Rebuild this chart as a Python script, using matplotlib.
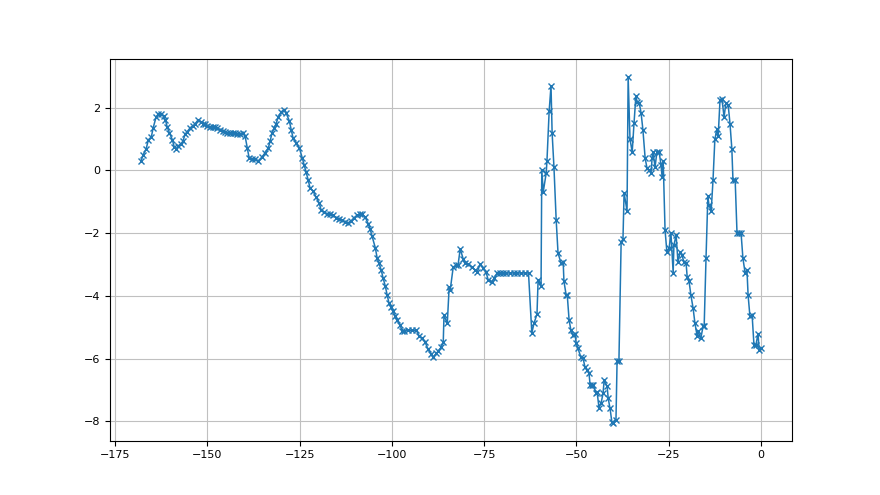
import matplotlib
matplotlib.use("Agg")
import matplotlib.pyplot as plt

# valores
x = [-168, -167.4, -166.6, -166.0, -165.2, -164.7, -163.9, -163.3, -162.5, -161.9,
     -161.4, -160.9, -160.3, -159.5, -159.0, -158.4, -157.9, -157.1, -156.6, -156.0,
     -155.5, -154.7, -153.9, -153.3, -152.5, -151.7, -151.2, -150.6, -150.1, -149.3,
     -148.5, -147.9, -147.4, -146.5, -145.7, -145.2, -144.6, -143.8, -143.0, -142.5,
     -141.9, -141.1, -140.3, -139.8, -139.2, -138.7, -137.9, -137.1, -136.3, -135.2,
     -134.4, -133.5, -133.0, -132.5, -131.9, -131.4, -130.8, -130.0, -129.2, -128.7,
     -127.8, -127.3, -126.8, -126.0, -125.1, -124.3, -123.8, -123.3, -122.7, -122.2,
     -121.4, -120.6, -119.7, -119.2, -118.4, -117.6, -116.7, -115.9, -115.1, -114.3,
     -113.5, -112.7, -111.9, -111.1, -110.3, -109.4, -108.6, -108.1, -107.3, -106.4,
     -105.9, -105.4, -104.5, -104.0, -103.5, -102.9, -102.4, -101.8, -101.3, -100.8,
     -100.2, -99.7, -99.1, -98.6, -97.8, -97.2, -96.7, -95.6, -94.5, -93.4,
     -92.6, -91.8, -91.0, -90.2, -89.4, -88.8, -88.0, -87.5, -86.7, -86.1,
     -85.9, -85.0, -84.5, -84.2, -83.4, -82.6, -82.1, -81.5, -80.7, -80.2,
     -79.4, -78.3, -77.5, -76.9, -76.1, -75.3, -74.5, -73.9, -72.9, -72.3,
     -71.5, -70.7, -70, -69, -68, -67, -66, -65, -64, -63,
     -62.1, -61.5, -60.7, -60.4, -59.6, -59.4, -59.0, -58.2, -58.0, -57.4,
     -56.9, -56.6, -56.1, -55.5, -55.0, -54.2, -53.6, -53.4, -52.8, -52.5,
     -52.0, -51.5, -50.9, -50.4, -50.1, -49.6, -48.8, -48.2, -47.7, -47.1,
     -46.6, -46.3, -45.8, -45.5, -44.7, -44.4, -43.9, -43.3, -42.8, -42.5,
     -41.7, -41.4, -40.9, -40.4, -40.1, -39.3, -39.0, -38.5, -37.9, -37.4,
     -37.1, -36.3, -36.0, -35.5, -34.9, -34.4, -33.9, -33.6, -33.0, -32.5,
     -32.0, -31.4, -30.9, -30.3, -29.8, -29.5, -29.3, -28.7, -28.2, -27.6,
     -27.1, -26.8, -26.5, -26.0, -25.5, -24.9, -24.4, -23.8, -23.6, -23.0,
     -22.5, -21.9, -21.4, -20.9, -20.3, -20.0, -19.5, -19.0, -18.4, -17.9,
     -17.3, -17.1, -16.3, -15.7, -15.4, -14.9, -14.4, -14.1, -13.5, -13.0,
     -12.5, -11.9, -11.6, -11.1, -10.6, -10.0, -9.5, -8.9, -8.4, -7.9,
     -7.6, -7.0, -6.5, -6.0, -5.4, -4.9, -4.3, -3.8, -3.5, -3.0,
     -2.4, -1.9, -1.4, -0.8, -0.5, 0]

y = [0.3, 0.5, 0.69, 0.98, 1.07, 1.36, 1.71, 1.8, 1.8, 1.74,
     1.62, 1.39, 1.2, 0.98, 0.75, 0.69, 0.79, 0.85, 0.95, 1.17,
     1.23, 1.36, 1.43, 1.49, 1.62, 1.55, 1.49, 1.49, 1.43, 1.39,
     1.39, 1.39, 1.36, 1.3, 1.26, 1.23, 1.2, 1.2, 1.2, 1.2,
     1.17, 1.17, 1.2, 1.1, 0.72, 0.4, 0.37, 0.37, 0.3, 0.43,
     0.56, 0.72, 0.94, 1.2, 1.36, 1.49, 1.71, 1.87, 1.94, 1.84,
     1.58, 1.3, 1.04, 0.88, 0.72, 0.4, 0.18, -0.04, -0.3, -0.56,
     -0.65, -0.84, -1.04, -1.26, -1.32, -1.39, -1.39, -1.42, -1.51, -1.55,
     -1.58, -1.64, -1.67, -1.61, -1.51, -1.42, -1.39, -1.39, -1.48, -1.7,
     -1.87, -2.09, -2.47, -2.8, -2.96, -3.18, -3.43, -3.69, -3.97, -4.23,
     -4.36, -4.49, -4.65, -4.78, -4.93, -5.13, -5.13, -5.1, -5.1, -5.1,
     -5.28, -5.35, -5.48, -5.7, -5.86, -5.96, -5.83, -5.77, -5.64, -5.48,
     -4.62, -4.87, -3.72, -3.8, -3.08, -3.02, -3.02, -2.5, -2.82, -2.95,
     -2.98, -3.08, -3.18, -3.24, -2.98, -3.11, -3.24, -3.5, -3.56, -3.43,
     -3.27, -3.27, -3.27, -3.27, -3.27, -3.27, -3.27, -3.27, -3.27, -3.27,
     -5.18, -4.87, -4.58, -3.5, -3.69, 0.02, -0.68, -0.08, 0.3, 1.9,
     2.7, 1.2, 0.1, -1.58, -2.63, -2.95, -2.92, -3.53, -3.97, -3.97,
     -4.77, -5.1, -5.26, -5.2, -5.5, -5.67, -5.96, -5.99, -6.27, -6.37,
     -6.47, -6.85, -6.85, -6.85, -7.11, -7.08, -7.56, -7.4, -7.11, -6.69,
     -6.88, -7.27, -7.59, -8.03, -8.06, -7.97, -6.09, -6.09, -2.28, -2.19,
     -0.71, -1.29, 2.99, 1.0, 0.59, 1.52, 2.38, 2.19, 2.16, 1.84,
     1.3, 0.4, 0.08, 0.02, -0.08, 0.4, 0.59, 0.12, 0.59, 0.59,
     0.18, -0.2, 0.3, -1.9, -2.6, -2.48, -2.0, -3.27, -2.38, -2.06,
     -2.92, -2.6, -2.7, -2.92, -2.95, -3.4, -3.53, -3.97, -4.39, -4.87,
     -5.28, -5.13, -5.35, -4.97, -4.97, -2.8, -0.82, -1.1, -1.29, -0.3,
     1.0, 1.33, 1.1, 2.26, 2.29, 1.71, 2.16, 2.1, 1.49, 0.69,
     -0.3, -0.3, -2.0, -2.0, -2.0, -2.8, -3.27, -3.18, -3.97, -4.65,
     -4.62, -5.58, -5.58, -5.2, -5.74, -5.67]

fig = plt.figure(figsize=(8.8, 4.95), dpi=100)
plt.plot(x, y, marker="x", markersize=4, linewidth=1.1)
plt.tick_params(labelsize=8)
plt.grid(color="#c0c0c0", linewidth=0.8)
plt.savefig("out.png")
